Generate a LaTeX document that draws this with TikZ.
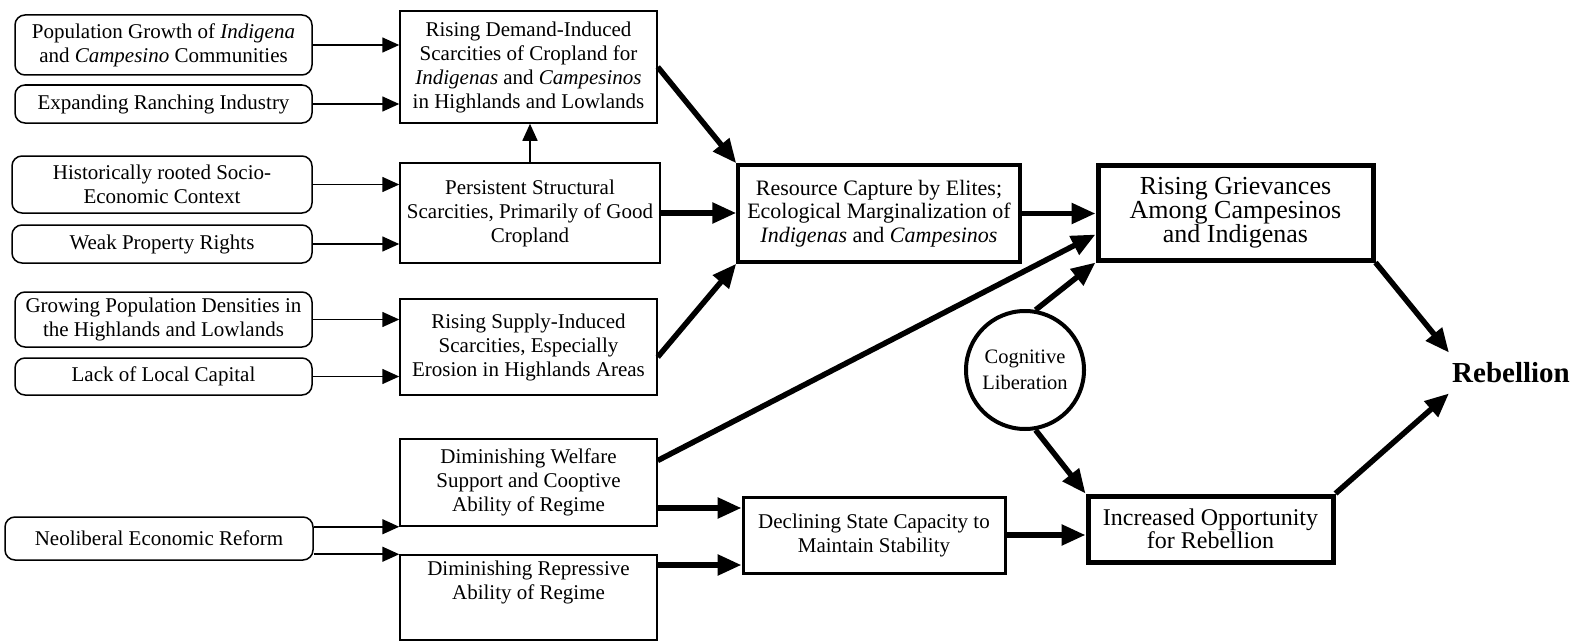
\documentclass[tikz,border=0pt]{standalone}
\usepackage{fontspec}
\setmainfont{Liberation Serif}
\usetikzlibrary{arrows.meta,calc}
\begin{document}
\begin{tikzpicture}[x=1pt,y=-1pt,
  lbox/.style={draw, line width=1.5pt, rounded corners=10pt, align=center, inner sep=1pt, font=\fontsize{21}{24}\selectfont},
  mbox/.style={draw, line width=1.5pt, align=center, inner sep=1pt, font=\fontsize{21}{24}\selectfont},
  tharrow/.style={line width=1.6pt, -{Triangle[length=17pt,width=15pt]}},
  thkarrow/.style={line width=5.5pt, -{Triangle[length=24pt,width=20pt]}}]
\useasboundingbox (0,0) rectangle (1585,642);
% left column
\node[lbox, minimum width=297pt, minimum height=60pt] (popg) at (163.5,45) {Population Growth of \textit{Indigena}\\and \textit{Campesino} Communities};
\node[lbox, minimum width=297pt, minimum height=38pt] (expd) at (163.5,104) {Expanding Ranching Industry};
\node[lbox, minimum width=300pt, minimum height=57pt] (hist) at (162,184.5) {Historically rooted Socio-\\Economic Context};
\node[lbox, minimum width=300pt, minimum height=38pt] (weak) at (162,244) {Weak Property Rights};
\node[lbox, minimum width=297pt, minimum height=55pt] (grow) at (163.5,319.5) {Growing Population Densities in\\the Highlands and Lowlands};
\node[lbox, minimum width=297pt, minimum height=37pt] (lack) at (163.5,376.5) {Lack of Local Capital};
\node[lbox, minimum width=308pt, minimum height=43pt] (neo) at (159,538.5) {Neoliberal Economic Reform};
% middle column
\node[mbox, minimum width=257pt, minimum height=112pt] (rdem) at (528.5,67) {Rising Demand-Induced\\Scarcities of Cropland for\\\textit{Indigenas} and \textit{Campesinos}\\in Highlands and Lowlands};
\node[mbox, minimum width=260pt, minimum height=100pt] (pers) at (530,213) {Persistent Structural\\Scarcities, Primarily of Good\\Cropland};
\node[mbox, minimum width=257pt, minimum height=96pt] (rsup) at (528.5,347) {Rising Supply-Induced\\Scarcities, Especially\\Erosion in Highlands Areas};
\node[mbox, minimum width=257pt, minimum height=87pt] (welf) at (528.5,482.5) {Diminishing Welfare\\Support and Cooptive\\Ability of Regime};
\node[mbox, minimum width=257pt, minimum height=85pt] (rep) at (528.5,597.5) {Diminishing Repressive\\Ability of Regime\\[10pt]};
\node[mbox, line width=3pt, minimum width=262pt, minimum height=76pt] (decl) at (874,535) {Declining State Capacity to\\Maintain Stability};
\node[mbox, line width=3.5pt, minimum width=282pt, minimum height=97pt, font=\fontsize{22}{23.5}\selectfont] (res) at (879,213.5) {Resource Capture by Elites;\\Ecological Marginalization of\\\textit{Indigenas} and \textit{Campesinos}};
% right part
\node[mbox, line width=5pt, minimum width=275pt, minimum height=95pt, font=\fontsize{26}{24}\selectfont] (griev) at (1235.5,212.5) {Rising Grievances\\Among Campesinos\\and Indigenas};
\node[draw, circle, line width=4pt, minimum size=118pt, inner sep=0pt, align=center, font=\fontsize{20.5}{26}\selectfont] (cog) at (1025,370) {Cognitive\\Liberation};
\node[mbox, line width=5pt, minimum width=245pt, minimum height=66pt, font=\fontsize{24}{23}\selectfont] (opp) at (1210.5,529) {Increased Opportunity\\for Rebellion};
\node[font=\bfseries\fontsize{29}{30}\selectfont, inner xsep=3pt, inner ysep=10pt] (reb) at (1511,373) {Rebellion};
% thin arrows
\draw[tharrow] (popg) -- (popg -| rdem.west);
\draw[tharrow] (expd) -- (expd -| rdem.west);
\draw[tharrow] (pers.north) -- (pers.north |- rdem.south);
\draw[tharrow] (hist) -- (hist -| pers.west);
\draw[tharrow] (weak) -- (weak -| pers.west);
\draw[tharrow] (grow) -- (grow -| rsup.west);
\draw[tharrow] (lack) -- (lack -| rsup.west);
\draw[tharrow] (neo.east |- welf.south west) -- (welf.south west);
\draw[tharrow] (neo.east |- rep.north west) -- (rep.north west);
% thick arrows
\draw[thkarrow] (rdem.east) -- (res.north west);
\draw[thkarrow] (pers) -- (pers -| res.west);
\draw[thkarrow] ([yshift=-10pt]rsup.east) -- (res.south west);
\draw[thkarrow] (res) -- (res -| griev.west);
\draw[thkarrow] ([yshift=22pt]welf.east) -- ([yshift=-22pt]griev.west);
\coordinate (dw) at ($(decl.west)+(0,-27)$);
\coordinate (dr) at ($(decl.west)+(0,30)$);
\draw[thkarrow] (welf.east |- dw) -- (dw);
\draw[thkarrow] (rep.east |- dr) -- (dr);
\draw[thkarrow] (decl) -- (decl -| opp.west);
\draw[thkarrow] (cog.80) -- (griev.south west);
\draw[thkarrow] (cog.-80) -- (opp.north west);
\draw[thkarrow] (griev.south east) -- (reb.north west);
\draw[thkarrow] (opp.north east) -- (reb.south west);
\end{tikzpicture}
\end{document}
